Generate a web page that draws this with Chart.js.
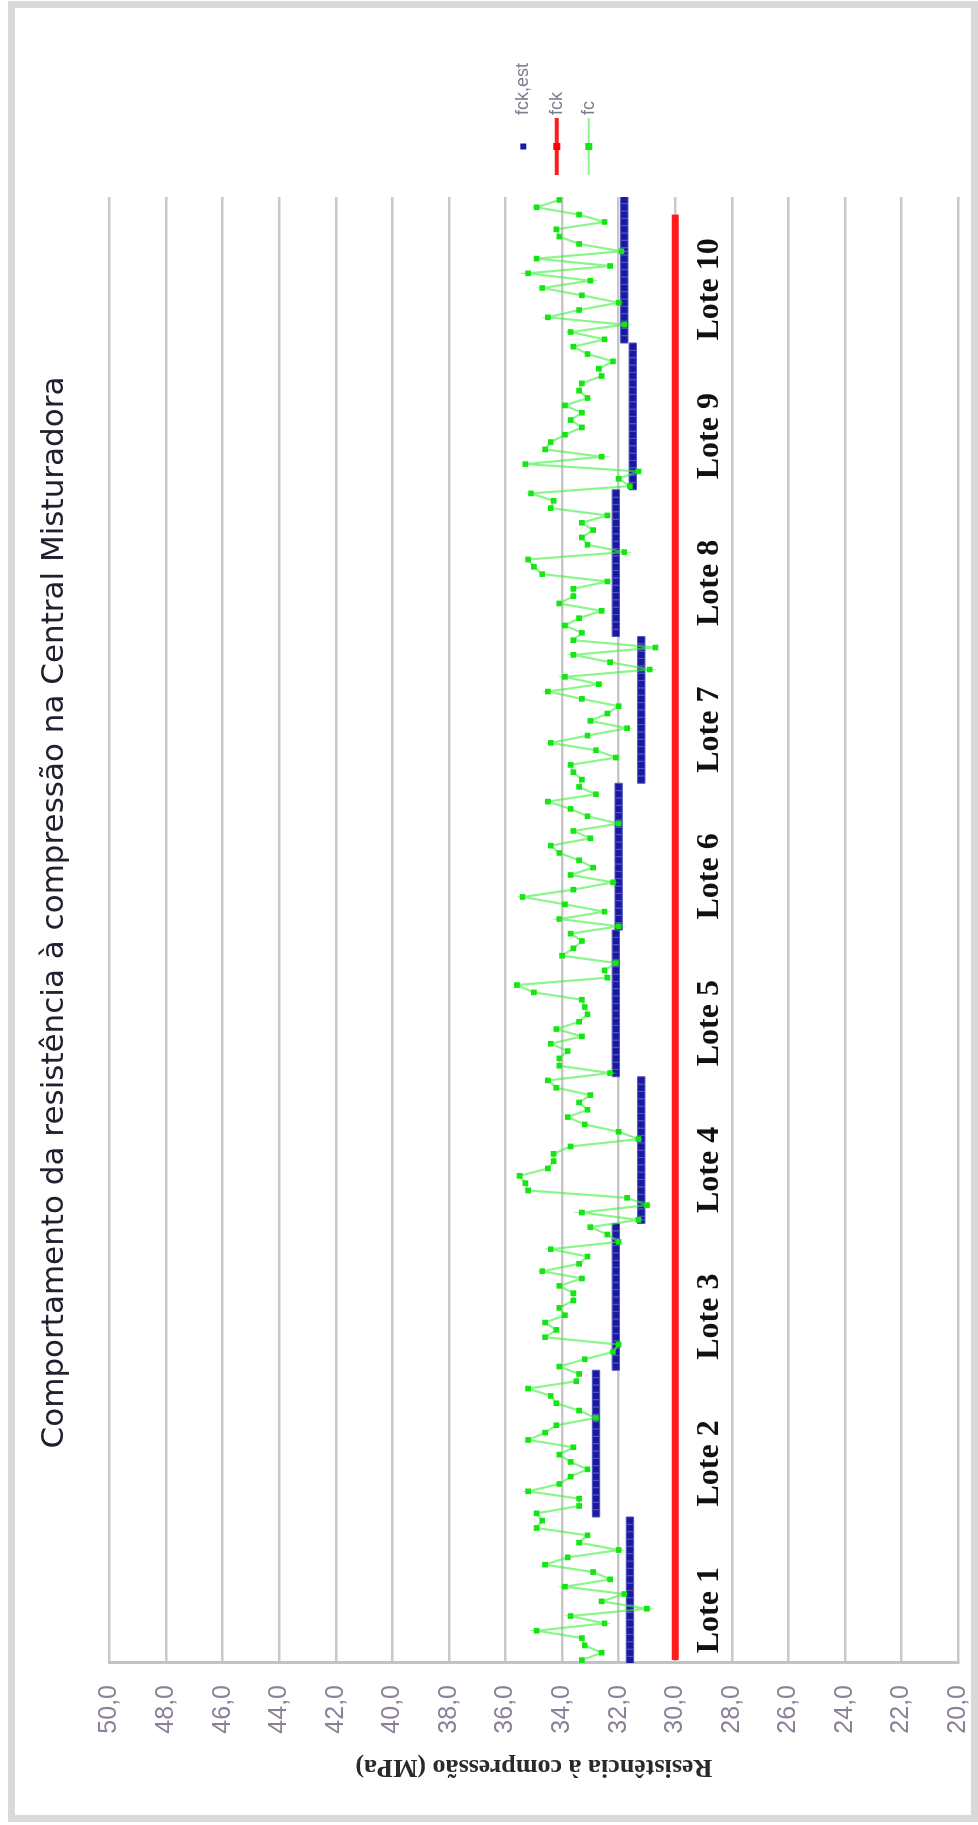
<!DOCTYPE html>
<html><head><meta charset="utf-8">
<script src="https://cdn.jsdelivr.net/npm/chart.js@4.4.0/dist/chart.umd.min.js"></script>
<style>
html,body{margin:0;padding:0;width:978px;height:1825px;overflow:hidden;background:#fff;}
#rot{position:absolute;left:0;top:0;width:1825px;height:978px;transform-origin:0 0;transform:translate(0px,1825px) rotate(-90deg);filter:blur(0.4px);}
#frame{position:absolute;left:8px;top:1px;width:956px;height:1807px;border:7px solid #d9d9d9;pointer-events:none;}
</style></head><body>
<div id="rot"><canvas id="c" width="1825" height="978"></canvas></div>
<div id="frame"></div>
<script>
// ---- data ----
const titleText = 'Comportamento da resistência à compressão na Central Misturadora';
const axisTitle = 'Resistência à compressão (MPa)';
const lotNames = ['Lote 1','Lote 2','Lote 3','Lote 4','Lote 5','Lote 6','Lote 7','Lote 8','Lote 9','Lote 10'];
const lotSizes = [20,20,20,20,20,20,20,20,20,20];
const lotEst = [31.6, 32.8, 32.1, 31.2, 32.1, 32.0, 31.2, 32.1, 31.5, 31.8]; // fck,est per lote
const fckLine = [30, 30];           // fck (MPa), drawn from first sample ...
const fckSpan = [0, 197];           // ... to the sample where the red line ends
const fc = [
33.3, 32.6, 33.2, 33.3, 34.9, 32.5, 33.7, 31.0, 32.6, 31.8,
33.9, 32.3, 32.9, 34.6, 33.8, 32.0, 33.4, 33.1, 34.9, 34.7,
34.9, 33.4, 33.4, 35.2, 34.1, 33.7, 33.1, 33.7, 34.1, 33.6,
35.2, 34.6, 34.2, 32.8, 33.4, 34.2, 34.4, 35.2, 33.5, 33.4,
34.1, 33.2, 32.2, 32.0, 34.6, 34.2, 34.6, 33.9, 34.1, 33.6,
33.6, 34.1, 33.3, 34.7, 33.4, 33.1, 34.4, 32.0, 32.4, 33.0,
31.3, 33.3, 31.0, 31.7, 35.2, 35.3, 35.5, 34.5, 34.3, 34.3,
33.7, 31.3, 32.0, 33.2, 33.8, 33.1, 33.4, 33.0, 34.2, 34.5,
32.3, 34.1, 34.1, 33.8, 34.4, 33.3, 34.2, 33.4, 33.1, 33.2,
33.3, 35.0, 35.6, 32.4, 32.5, 32.1, 34.0, 33.6, 33.3, 33.7,
32.0, 34.1, 32.5, 33.9, 35.4, 33.6, 32.2, 33.7, 32.9, 33.4,
34.1, 34.4, 33.0, 33.6, 32.0, 33.1, 33.7, 34.5, 32.8, 33.4,
33.3, 33.6, 33.7, 32.1, 32.8, 34.4, 33.1, 31.7, 33.0, 32.4,
32.0, 33.3, 34.5, 32.7, 33.9, 30.9, 32.3, 33.6, 30.7, 33.6,
33.3, 33.9, 33.4, 32.6, 34.1, 33.6, 33.6, 32.4, 34.7, 35.0,
35.2, 31.8, 33.1, 33.3, 32.9, 33.3, 32.4, 34.4, 34.3, 35.1,
31.6, 32.0, 31.3, 35.3, 32.6, 34.6, 34.4, 33.9, 33.3, 33.7,
33.3, 33.9, 33.1, 33.4, 33.3, 32.6, 32.7, 32.2, 33.1, 33.6,
32.5, 33.7, 31.8, 34.5, 33.4, 32.0, 33.3, 34.7, 33.0, 35.2,
32.3, 34.9, 31.9, 33.4, 34.1, 34.2, 32.5, 33.4, 34.9, 34.1
];
const yMin = 20, yMax = 50, yStep = 2;

// ---- tables built from the arrays ----
const fcPoints = fc.map((v,i)=>({x:i, y:v}));
const estPoints = [];
{ let s = 0; lotSizes.forEach((n,k)=>{ for(let j=0;j<n;j++) estPoints.push({x:s+j, y:lotEst[k]}); s+=n; }); }
const fckPoints = fckLine.map((v,i)=>({x:fckSpan[i], y:v}));

const lotLabelsPlugin = {
  id:'lotLabels',
  afterDatasetsDraw(chart){
    const {ctx, scales:{x,y}} = chart;
    ctx.save();
    ctx.font = 'bold 32px "Liberation Serif"';
    ctx.fillStyle = '#111';
    ctx.textAlign = 'center';
    ctx.textBaseline = 'alphabetic';
    let s = 0;
    lotNames.forEach((name,k)=>{
      const n = lotSizes[k];
      const cx = x.getPixelForValue(s + n/2 - 0.5 - 2.7);
      ctx.fillText(name, cx, y.getPixelForValue(28.5));
      s += n;
    });
    ctx.restore();
  }
};

const legendPlugin = {
  id:'sideLegend',
  afterDraw(chart){
    const {ctx, chartArea:a} = chart;
    const ds = chart.data.datasets;
    const mid = (a.top + a.bottom)/2;
    const rows = [mid-10.5, mid+23, mid+55];
    const x0 = a.right + 22, x1 = a.right + 79, xm = (x0+x1)/2, xt = a.right + 82;
    ctx.save();
    ctx.font = '18px "Liberation Sans"';
    ctx.textBaseline = 'middle';
    ctx.textAlign = 'left';
    ds.forEach((d,i)=>{
      const yy = rows[i];
      if (d.showLine !== false) {
        ctx.strokeStyle = d.borderColor; ctx.lineWidth = i===1 ? 4 : 2;
        ctx.beginPath(); ctx.moveTo(x0,yy); ctx.lineTo(x1,yy); ctx.stroke();
      }
      const c = d.pointBackgroundColor || d.backgroundColor || d.borderColor;
      ctx.fillStyle = i===1 ? '#ff0000' : c;
      const s = i===0 ? 6 : 7;
      ctx.fillRect(xm - s/2, yy - s/2, s, s);
      ctx.fillStyle = '#7d7d8e';
      ctx.fillText(d.label, xt, yy);
    });
    ctx.restore();
  }
};

new Chart(document.getElementById('c'), {
  type:'line',
  data:{ datasets:[
    { label:'fck,est', data:estPoints, showLine:false, pointStyle:'rect', pointRadius:5.2,
      backgroundColor:'#1a1aa0', borderColor:'#5656c0', borderWidth:1, order:2 },
    { label:'fck', data:fckPoints, borderColor:'#ff1c1c', borderWidth:7, pointRadius:0, order:3 },
    { label:'fc', data:fcPoints, borderColor:'rgba(60,240,60,0.6)', borderWidth:2.2,
      pointStyle:'rect', pointRadius:4, pointBackgroundColor:'#14e614', pointBorderColor:'#14e614',
      pointBorderWidth:0, order:1 }
  ]},
  options:{
    responsive:false, animation:false, devicePixelRatio:1,
    layout:{padding:{left:0,right:0,top:0,bottom:20}},
    plugins:{
      legend:{display:false}, tooltip:{enabled:false},
      title:{display:true, text:titleText, color:'#202030',
        font:{family:'DejaVu Sans', size:31, weight:'normal', lineHeight:1.2},
        padding:{top:36.4,bottom:36}}
    },
    scales:{
      x:{type:'linear', min:-0.4, max:199.4, display:false},
      y:{min:yMin, max:yMax,
        afterFit(s){ s.width = 162; s.paddingTop = 0; s.paddingBottom = 0; },
        ticks:{stepSize:yStep, padding:22, color:'#8c8098',
          font:{family:'Liberation Sans', size:25},
          callback:v=>v.toFixed(1).replace('.',',')},
        grid:{color:'#c8c8c8', lineWidth:2.5, drawTicks:false},
        border:{display:true, color:'#c2c2c2', width:3},
        title:{display:true, text:axisTitle, color:'#2a2a2a',
          font:{family:'Liberation Serif', size:26, weight:'bold', lineHeight:1.2},
          padding:{top:42.4,bottom:0}}
      },
      yRight:{position:'right', display:true, afterFit(s){ s.width = 197; },
        ticks:{display:false}, grid:{display:false}, border:{display:false}}
    }
  },
  plugins:[lotLabelsPlugin, legendPlugin]
});
</script>
</body></html>
